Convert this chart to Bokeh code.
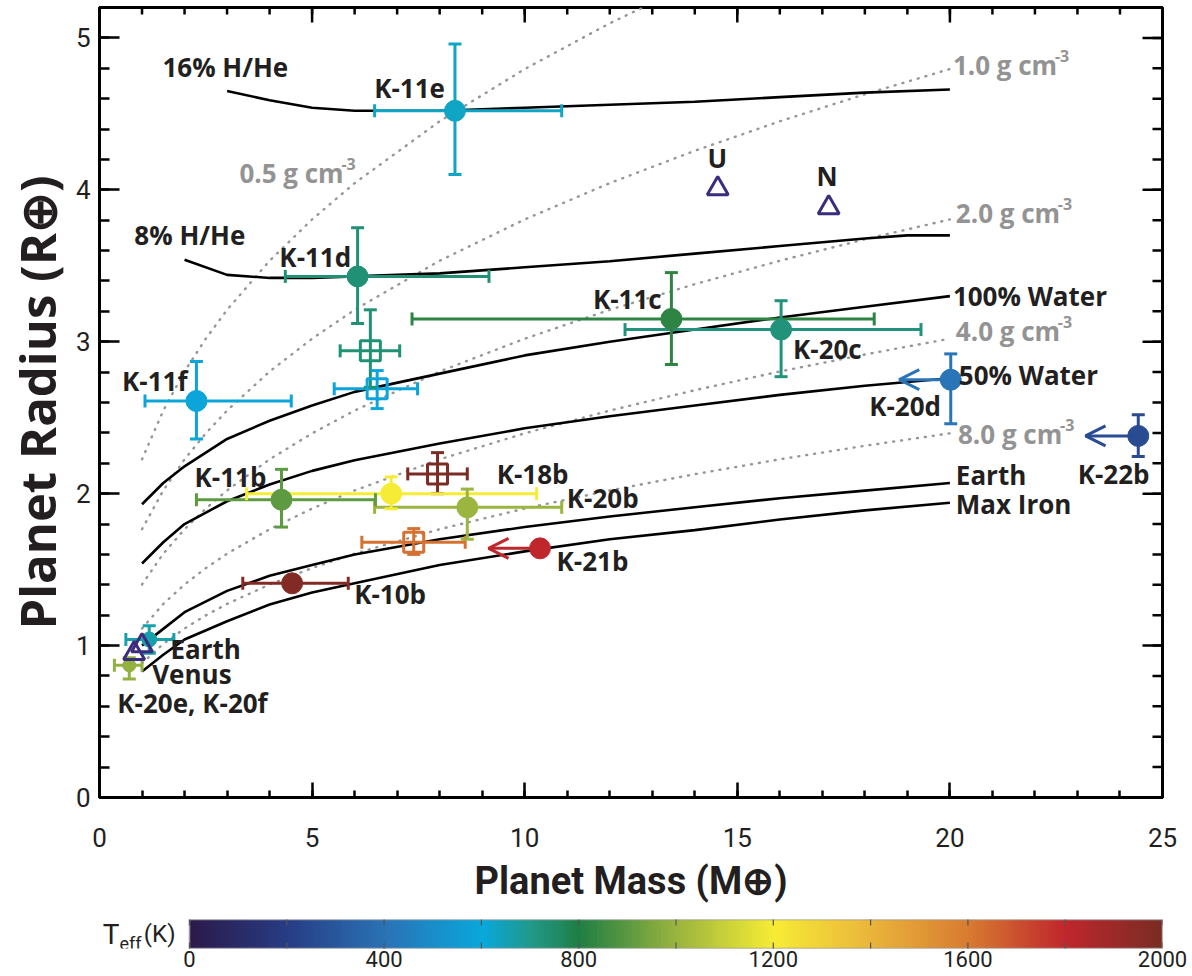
import numpy as np
from bokeh.plotting import figure
from bokeh.models import (Range1d, FixedTicker, Label, Arrow, OpenHead,
                          ColumnDataSource, LinearColorMapper)
from bokeh.layouts import column
from bokeh.embed import file_html
from bokeh.resources import INLINE

nan = float("nan")

# ---------------- model curves (mass in M_earth, radius in R_earth) ----------------
curve_mass = [1, 1.5, 2, 3, 4, 5, 6, 8, 10, 12, 14, 16, 18, 20]
water100_radius = [1.93, 2.07, 2.18, 2.36, 2.48, 2.58, 2.67, 2.79, 2.91, 3.00, 3.08, 3.16, 3.23, 3.30]
water50_radius = [1.54, 1.68, 1.80, 1.95, 2.06, 2.15, 2.22, 2.33, 2.43, 2.51, 2.58, 2.65, 2.71, 2.76]
earthlike_radius = [1.00, 1.11, 1.22, 1.36, 1.46, 1.53, 1.60, 1.70, 1.78, 1.85, 1.91, 1.97, 2.02, 2.07]
maxiron_radius = [0.83, 0.94, 1.04, 1.16, 1.27, 1.35, 1.41, 1.53, 1.62, 1.70, 1.76, 1.83, 1.89, 1.94]

hhe8_mass = [2, 3, 4, 5, 6, 8, 10, 12, 14, 16, 18, 19, 20]
hhe8_radius = [3.54, 3.44, 3.42, 3.42, 3.43, 3.45, 3.49, 3.53, 3.58, 3.63, 3.68, 3.70, 3.70]
hhe16_mass = [3, 4, 5, 6, 8, 10, 12, 14, 16, 18, 20]
hhe16_radius = [4.65, 4.59, 4.54, 4.52, 4.52, 4.54, 4.56, 4.58, 4.61, 4.64, 4.66]

# iso-density curves
density_mass = [1, 1.5, 2, 2.5, 3, 4, 5, 6, 8, 10, 12, 14, 16, 18, 20]
rho05_radius = [2.226, 2.547, 2.804, 3.020, 3.210, 3.533, 3.805, 4.044, 4.451, 4.795, 5.096, 5.364, 5.607, 5.832, 6.040]
rho1_radius = [1.766, 2.021, 2.226, 2.397, 2.547, 2.804, 3.020, 3.210, 3.533, 3.805, 4.044, 4.257, 4.451, 4.629, 4.795]
rho2_radius = [1.402, 1.605, 1.766, 1.902, 2.021, 2.226, 2.397, 2.547, 2.804, 3.020, 3.210, 3.379, 3.533, 3.674, 3.805]
rho4_radius = [1.112, 1.274, 1.402, 1.510, 1.605, 1.766, 1.902, 2.021, 2.226, 2.397, 2.547, 2.681, 2.804, 2.916, 3.020]
rho8_radius = [0.883, 1.011, 1.112, 1.199, 1.274, 1.402, 1.510, 1.605, 1.766, 1.902, 2.021, 2.128, 2.226, 2.315, 2.397]

# ---------------- planets: filled circles ----------------
circ_name = ["K-11b", "K-11c", "K-11d", "K-11e", "K-11f", "K-18b", "K-20b", "K-20c",
             "K-20d", "K-20e", "K-20f", "K-21b", "K-22b", "K-10b"]
circ_mass = [4.28, 13.45, 6.07, 8.36, 2.28, 6.86, 8.65, 16.03, 20.02, 0.70, 1.17, 10.36, 24.43, 4.53]
circ_mass_lo = [2.28, 7.35, 4.37, 6.47, 1.07, 3.46, 6.47, 12.36, nan, 0.35, 0.62, nan, nan, 3.37]
circ_mass_hi = [6.49, 18.22, 9.16, 10.87, 4.51, 10.28, 10.87, 19.32, nan, 1.00, 1.75, nan, nan, 5.85]
circ_radius = [1.96, 3.15, 3.43, 4.52, 2.61, 2.00, 1.91, 3.08, 2.75, 0.87, 1.04, 1.64, 2.38, 1.41]
circ_radius_lo = [1.78, 2.85, 3.12, 4.10, 2.36, 1.90, 1.70, 2.77, 2.46, 0.78, 0.95, nan, 2.245, nan]
circ_radius_hi = [2.16, 3.455, 3.75, 4.96, 2.87, 2.11, 2.03, 3.27, 2.92, 0.92, 1.13, nan, 2.52, nan]
circ_mass_upper_limit_to = [nan, nan, nan, nan, nan, nan, nan, nan, 18.81, nan, nan, 9.15, 23.19, nan]
circ_teff = [900, 820, 730, 625, 590, 1200, 1000, 720, 410, 990, 660, 1800, 250, 1980]

# ---------------- planets: open squares ----------------
sq_mass = [6.37, 6.53, 7.95, 7.39]
sq_mass_lo = [5.66, 5.52, 7.25, 6.17]
sq_mass_hi = [7.06, 7.48, 8.65, 8.60]
sq_radius = [2.94, 2.69, 2.13, 1.68]
sq_radius_lo = [2.70, 2.56, 2.00, 1.60]
sq_radius_hi = [3.21, 2.81, 2.27, 1.77]
sq_teff = [730, 590, 2000, 1620]

# ---------------- solar system (open triangles) ----------------
ss_name = ["Earth", "Venus", "U", "N"]
ss_mass = [1.0, 0.815, 14.54, 17.15]
ss_radius = [1.0, 0.949, 4.007, 3.883]

# ---------------- axes ----------------
x_major = [0, 5, 10, 15, 20, 25]
x_minor = list(range(0, 26))
y_major = [0, 1, 2, 3, 4, 5]
y_minor = [round(0.2 * i, 1) for i in range(27)]
cb_major = [0, 400, 800, 1200, 1600, 2000]
cb_minor = [200, 600, 1000, 1400, 1800]

# ---------------- colour map (Teff) ----------------
cmap_stops = [(0, "#2b1a4c"), (200, "#283d85"), (400, "#2a73b6"), (600, "#09a8dc"),
              (700, "#21998a"), (800, "#1f7e44"), (1000, "#9ab43e"), (1200, "#f7ec35"),
              (1400, "#eab53b"), (1600, "#d87c31"), (1800, "#c0272d"), (2000, "#7a2c24")]


def hex2rgb(h):
    return [int(h[i:i + 2], 16) for i in (1, 3, 5)]


def build_palette(stops, n=256):
    out = []
    for k in range(n):
        t = 2000.0 * k / (n - 1)
        for (t0, c0), (t1, c1) in zip(stops[:-1], stops[1:]):
            if t0 <= t <= t1:
                f = (t - t0) / (t1 - t0)
                a, b = hex2rgb(c0), hex2rgb(c1)
                rgb = [round(a[j] + f * (b[j] - a[j])) for j in range(3)]
                out.append("#%02x%02x%02x" % tuple(rgb))
                break
    return out


palette = build_palette(cmap_stops)


def teff_color(t):
    return palette[min(255, max(0, int(round(t / 2000.0 * 255))))]


TXT = "#231f20"
GRAY = "#939393"
PURPLE = "#3b2c7e"
LABEL_FONT = "Open Sans"
TICK_FONT = "Roboto"

# ---------------- main figure ----------------
p = figure(frame_width=1063, frame_height=790, x_range=Range1d(0, 25), y_range=Range1d(0, 5.2),
           output_backend="svg", toolbar_location=None,
           min_border_left=97, min_border_right=32, min_border_top=7, min_border_bottom=108)
p.xgrid.visible = False
p.ygrid.visible = False
p.outline_line_color = "black"
p.outline_line_width = 3
p.background_fill_color = "white"
p.border_fill_color = "white"

for ax, maj, mnr, tin, tmin in ((p.xaxis[0], x_major, x_minor, 15, 7), (p.yaxis[0], y_major, y_minor, 20, 10)):
    ax.ticker = FixedTicker(ticks=maj, minor_ticks=mnr)
    ax.major_tick_in = tin
    ax.major_tick_out = 0
    ax.minor_tick_in = tmin
    ax.minor_tick_out = 0
    ax.axis_line_width = 3
    ax.major_tick_line_width = 2.5
    ax.minor_tick_line_width = 2.5
    ax.major_label_text_font = TICK_FONT
    ax.major_label_text_font_size = "26px"
    ax.major_label_text_color = TXT
    ax.axis_label_text_font_style = "bold"
    ax.axis_label_text_color = TXT

p.xaxis.major_label_standoff = 30
p.yaxis.major_label_standoff = 9
p.xaxis.axis_label = "Planet Mass (M⊕)"
p.xaxis.axis_label_text_font = TICK_FONT
p.xaxis.axis_label_text_font_size = "38px"
p.xaxis.axis_label_standoff = 9
p.yaxis.axis_label = "Planet Radius (R⊕)"
p.yaxis.axis_label_text_font = LABEL_FONT
p.yaxis.axis_label_text_font_size = "49px"
p.yaxis.axis_label_standoff = 3

# inward ticks on the top and right edges (half of each dash is clipped by the frame)
p.scatter(x=x_minor, y=[5.2] * len(x_minor), marker="dash", angle=np.pi / 2, size=14,
          line_color="black", line_width=2.5)
p.scatter(x=x_major, y=[5.2] * len(x_major), marker="dash", angle=np.pi / 2, size=30,
          line_color="black", line_width=2.5)
p.scatter(x=[25] * len(y_minor), y=y_minor, marker="dash", size=20, line_color="black", line_width=2.5)
p.scatter(x=[25] * len(y_major), y=y_major, marker="dash", size=40, line_color="black", line_width=2.5)

# iso-density dotted curves
for rr in (rho05_radius, rho1_radius, rho2_radius, rho4_radius, rho8_radius):
    p.line(density_mass, rr, line_color="#969696", line_width=2.4, line_dash="1 7", line_cap="round")

# composition curves
for mm, rr in ((curve_mass, water100_radius), (curve_mass, water50_radius),
               (curve_mass, earthlike_radius), (curve_mass, maxiron_radius),
               (hhe8_mass, hhe8_radius), (hhe16_mass, hhe16_radius)):
    p.line(mm, rr, line_color="black", line_width=2.6)


def draw_errors(src):
    p.segment(x0="mlo", y0="r", x1="mhi", y1="r", line_color="color", line_width=3, source=src)
    p.segment(x0="m", y0="rlo", x1="m", y1="rhi", line_color="color", line_width=3, source=src)
    p.scatter(x="mlo", y="r", marker="dash", angle=np.pi / 2, size=13, line_color="color",
              line_width=3, source=src)
    p.scatter(x="mhi", y="r", marker="dash", angle=np.pi / 2, size=13, line_color="color",
              line_width=3, source=src)
    p.scatter(x="m", y="rlo", marker="dash", size=13, line_color="color", line_width=3, source=src)
    p.scatter(x="m", y="rhi", marker="dash", size=13, line_color="color", line_width=3, source=src)


circ_src = ColumnDataSource(dict(
    m=circ_mass, mlo=circ_mass_lo, mhi=circ_mass_hi,
    r=circ_radius, rlo=circ_radius_lo, rhi=circ_radius_hi,
    color=[teff_color(t) for t in circ_teff],
    size=[13 if n == "K-20e" else 15 if n == "K-20f" else 21 for n in circ_name]))
sq_src = ColumnDataSource(dict(
    m=sq_mass, mlo=sq_mass_lo, mhi=sq_mass_hi,
    r=sq_radius, rlo=sq_radius_lo, rhi=sq_radius_hi,
    color=[teff_color(t) for t in sq_teff]))

draw_errors(sq_src)
draw_errors(circ_src)

# upper-limit arrows
for i, lim in enumerate(circ_mass_upper_limit_to):
    if lim == lim:
        c = teff_color(circ_teff[i])
        p.add_layout(Arrow(x_start=circ_mass[i], y_start=circ_radius[i], x_end=lim, y_end=circ_radius[i],
                           line_color=c, line_width=3,
                           end=OpenHead(size=20, line_color=c, line_width=3)))

p.scatter(x="m", y="r", size=20, marker="square", fill_color=None, line_color="color",
          line_width=3, source=sq_src)
p.scatter(x="m", y="r", size="size", marker="circle", fill_color="color", line_color="color",
          source=circ_src)
p.scatter(ss_mass, ss_radius, marker="triangle", size=21, fill_color=None, line_color=PURPLE,
          line_width=3)

# ---------------- text annotations ----------------
black_labels = [
    ("16% H/He", 1.48, 4.81, "left"), ("8% H/He", 0.82, 3.70, "left"),
    ("K-11e", 6.46, 4.67, "left"), ("K-11d", 4.23, 3.56, "left"),
    ("K-11f", 2.07, 2.74, "right"), ("K-11c", 13.22, 3.28, "right"),
    ("K-20c", 16.31, 2.95, "left"), ("K-20d", 19.79, 2.58, "right"),
    ("K-22b", 23.85, 2.13, "center"), ("K-11b", 3.08, 2.11, "center"),
    ("K-18b", 9.34, 2.13, "left"), ("K-20b", 10.99, 1.97, "left"),
    ("K-21b", 10.75, 1.56, "left"), ("K-10b", 5.99, 1.34, "left"),
    ("Earth", 1.67, 0.98, "left"), ("Venus", 1.24, 0.81, "left"),
    ("K-20e, K-20f", 0.42, 0.62, "left"),
    ("U", 14.53, 4.21, "center"), ("N", 17.11, 4.09, "center"),
    ("100% Water", 20.07, 3.30, "left"), ("50% Water", 20.21, 2.78, "left"),
    ("Earth", 20.14, 2.12, "left"), ("Max Iron", 20.14, 1.93, "left"),
]
for text, x, y, align in black_labels:
    p.add_layout(Label(x=x, y=y, text=text, text_align=align, text_baseline="middle",
                       text_font=LABEL_FONT, text_font_style="bold", text_font_size="26px",
                       text_color=TXT))

gray_labels = [("0.5 g cm", 3.29, 4.11), ("1.0 g cm", 20.07, 4.82), ("2.0 g cm", 20.14, 3.85),
               ("4.0 g cm", 20.14, 3.07), ("8.0 g cm", 20.19, 2.39)]
for text, x, y in gray_labels:
    p.add_layout(Label(x=x, y=y, text=text, text_align="left", text_baseline="middle",
                       text_font=LABEL_FONT, text_font_style="bold", text_font_size="26px",
                       text_color=GRAY))
    p.add_layout(Label(x=x, y=y, x_offset=102, y_offset=9, text="-3", text_align="left",
                       text_baseline="middle", text_font=LABEL_FONT, text_font_style="bold",
                       text_font_size="16px", text_color=GRAY))

# ---------------- colour bar (frame aligned with main plot; bar spans 0..2000) ----------------
mapper = LinearColorMapper(palette=palette, low=0, high=2000)
cb = figure(frame_width=1063, frame_height=29, x_range=Range1d(-185, 2000), y_range=Range1d(0, 1),
            output_backend="svg", toolbar_location=None, y_axis_location=None,
            min_border_left=97, min_border_right=32, min_border_top=14, min_border_bottom=28)
cb.xgrid.visible = False
cb.ygrid.visible = False
cb.outline_line_color = None
cb.background_fill_color = "white"
cb.border_fill_color = "white"
cb.image(image=[np.linspace(0, 2000, 500).reshape(1, -1)], x=0, y=0, dw=2000, dh=1,
         color_mapper=mapper)
cb.quad(left=0, right=2000, bottom=0, top=1, fill_color=None, line_color="#9a9a9a", line_width=1.5)
cb_ticks = cb_major + cb_minor
cb.scatter(x=cb_ticks, y=[0] * len(cb_ticks), marker="dash", angle=np.pi / 2, size=12,
           line_color="#555555", line_width=1.2)
cb.scatter(x=cb_ticks, y=[1] * len(cb_ticks), marker="dash", angle=np.pi / 2, size=12,
           line_color="#555555", line_width=1.2)
ax = cb.xaxis[0]
ax.ticker = FixedTicker(ticks=cb_major, minor_ticks=[])
ax.axis_line_color = None
ax.major_tick_line_color = None
ax.major_tick_in = 0
ax.major_tick_out = 0
ax.minor_tick_line_color = None
ax.major_label_standoff = 2
ax.major_label_text_font = TICK_FONT
ax.major_label_text_font_size = "22px"
ax.major_label_text_color = TXT

for text, xo, yo, size in (("T", -70, 0, "28px"), ("eff", -48, -9, "18px"), ("(K)", -14, 0, "24px")):
    cb.add_layout(Label(x=0, y=0.5, x_offset=xo, y_offset=yo, text=text, text_align="right",
                        text_baseline="middle", text_font=TICK_FONT, text_font_size=size,
                        text_color=TXT))

layout = column(p, cb, spacing=0)
open("out.html", "w").write(file_html(layout, INLINE))
